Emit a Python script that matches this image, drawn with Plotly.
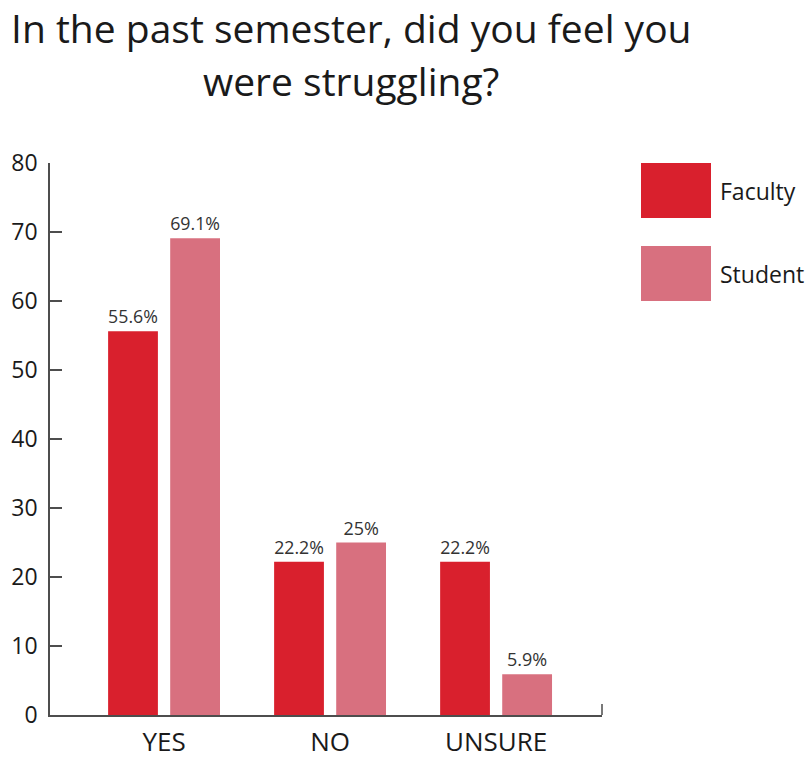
import plotly.graph_objects as go

# Survey responses (percent)
categories = ["YES", "NO", "UNSURE"]
faculty = [55.6, 22.2, 22.2]
student = [69.1, 25, 5.9]
series_names = ["Faculty", "Student"]
y_ticks = [0, 10, 20, 30, 40, 50, 60, 70, 80]
title_lines = ["In the past semester, did you feel you", "were struggling?"]

FACULTY_COLOR = "#D9202D"
STUDENT_COLOR = "#D8707F"
FONT = "Open Sans, Lato, sans-serif"
AXIS_COLOR = "#4d4d4d"
TEXT_COLOR = "#1a1a1a"

# plot area in pixels: x 50..602, y 163..715
PLOT_H = 552.0


def py(ypx):
    """Convert a pixel row to paper y."""
    return (715 - ypx) / PLOT_H


def px(xpx):
    """Convert a pixel column to paper x."""
    return (xpx - 50) / 552.0


fig = go.Figure()
for name, vals, color, off in [
    (series_names[0], faculty, FACULTY_COLOR, -0.337),
    (series_names[1], student, STUDENT_COLOR, 0.037),
]:
    fig.add_trace(go.Bar(
        x=categories, y=vals, name=name,
        marker=dict(color=color, line=dict(width=0)),
        width=0.3, offset=off,
        text=[f"{v:g}%" for v in vals],
        textposition="outside", cliponaxis=False,
        textfont=dict(family=FONT, size=18, color="#333333"),
        showlegend=False,
    ))

# Legend drawn as large swatches with labels beside them
for i, (name, color) in enumerate(zip(series_names, [FACULTY_COLOR, STUDENT_COLOR])):
    top = 163 + i * 83
    fig.add_shape(type="rect", xref="paper", yref="paper",
                  x0=px(641), x1=px(711), y0=py(top + 55), y1=py(top),
                  fillcolor=color, line=dict(width=0))
    fig.add_annotation(xref="paper", yref="paper",
                       x=px(718), y=py(top + 28),
                       text=name, showarrow=False, xanchor="left", yanchor="middle",
                       font=dict(family=FONT, size=23, color=TEXT_COLOR))

# Two-line title
for line, ypx in zip(title_lines, [27, 80]):
    fig.add_annotation(xref="paper", yref="paper", x=px(351), y=py(ypx),
                       text=line, showarrow=False, xanchor="center", yanchor="middle",
                       font=dict(family=FONT, size=39, color=TEXT_COLOR))

# Small closing tick at the right end of the baseline
fig.add_shape(type="line", xref="paper", yref="paper",
              x0=1, x1=1, y0=0, y1=11 / PLOT_H,
              line=dict(color=AXIS_COLOR, width=1.5))

fig.update_layout(
    width=807, height=759,
    margin=dict(l=50, r=205, t=163, b=44),
    paper_bgcolor="white", plot_bgcolor="white",
    barmode="group",
    xaxis=dict(range=[-0.687, 2.638], showline=True, linecolor=AXIS_COLOR, linewidth=1.5,
               ticks="", showgrid=False, ticklabelstandoff=3, automargin=False,
               tickfont=dict(family=FONT, size=26, color=TEXT_COLOR)),
    yaxis=dict(range=[0, 80], tickvals=y_ticks, showline=True, linecolor=AXIS_COLOR,
               linewidth=1.5, ticks="inside", ticklen=12, tickcolor=AXIS_COLOR, tickwidth=1.5,
               showgrid=False, zeroline=False, ticklabelstandoff=6, automargin=False,
               tickfont=dict(family=FONT, size=23, color=TEXT_COLOR)),
)

fig.write_html("out.html")
